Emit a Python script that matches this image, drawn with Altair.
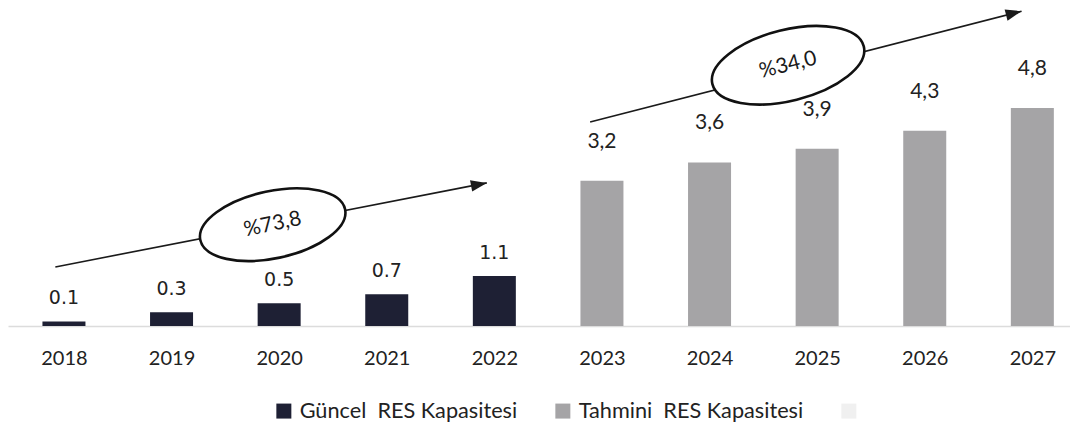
import altair as alt
import pandas as pd

# ---- data ----
years = [2018, 2019, 2020, 2021, 2022, 2023, 2024, 2025, 2026, 2027]
values = [0.1, 0.3, 0.5, 0.7, 1.1, 3.2, 3.6, 3.9, 4.3, 4.8]
value_labels = ["0.1", "0.3", "0.5", "0.7", "1.1", "3,2", "3,6", "3,9", "4,3", "4,8"]
series_names = ["Güncel\u00a0 RES Kapasitesi", "Tahmini\u00a0 RES Kapasitesi", "\u00a0"]
series = [series_names[0]] * 5 + [series_names[1]] * 5
series_colors = ["#1e2034", "#a5a4a6", "#f0f0f0"]

# ---- growth annotations (in year / value units) ----
arrow_x1 = [2017.92, 2022.89]
arrow_y1 = [1.30, 4.49]
arrow_x2 = [2021.93, 2026.90]
arrow_y2 = [3.15, 6.93]
arrow_angle = [349, 345.6]
ell_x = [2019.94, 2024.73]
ell_y = [2.23, 5.74]
ell_text = ["%73,8", "%34,0"]
ell_angle = [348, 346]
ell_size = [21904, 24336]

df = pd.DataFrame({"year": years, "value": values, "label": value_labels, "series": series})
arr = pd.DataFrame({"x1": arrow_x1, "y1": arrow_y1, "x2": arrow_x2, "y2": arrow_y2, "ang": arrow_angle})
ell = pd.DataFrame({"x": ell_x, "y": ell_y, "t": ell_text, "ang": ell_angle, "sz": ell_size})

XS = alt.Scale(domain=[2017.48, 2027.35], nice=False, zero=False, padding=0)
YS = alt.Scale(domain=[0, 7], nice=False, padding=0)
XA = alt.Axis(values=years, format="d", title=None, ticks=False, tickSize=0, grid=False,
              labelFont="Lato", labelFontSize=20, labelColor="#222222", labelBaseline="middle",
              labelPadding=32, domainColor="#dcdcdc", domainWidth=1.5, labelFlush=False)

base = alt.Chart(df)

bars = base.mark_bar(size=43).encode(
    x=alt.X("year:Q", scale=XS, axis=XA),
    y=alt.Y("value:Q", scale=YS, axis=None),
    color=alt.Color("series:N",
                    scale=alt.Scale(domain=series_names, range=series_colors),
                    legend=alt.Legend(title=None, orient="none", legendX=265, legendY=392,
                                      direction="horizontal", symbolType="square", symbolSize=225,
                                      symbolStrokeWidth=0, labelFont="Lato", labelFontSize=21.7,
                                      labelColor="#222222", labelOffset=5, columnPadding=34,
                                      labelLimit=0)),
)

lab_actual = base.transform_filter(alt.datum.series == series_names[0]).mark_text(
    font="DejaVu Sans", fontSize=19, dy=-23, color="#222222", baseline="middle"
).encode(x=alt.X("year:Q", scale=XS, axis=XA), y=alt.Y("value:Q", scale=YS, axis=None), text="label:N")

lab_fore = base.transform_filter(alt.datum.series == series_names[1]).mark_text(
    font="Lato", fontSize=21, dy=-39, color="#222222", baseline="middle"
).encode(x=alt.X("year:Q", scale=XS, axis=XA), y=alt.Y("value:Q", scale=YS, axis=None), text="label:N")

arrows = alt.Chart(arr).mark_rule(strokeWidth=1.6, color="#1a1a1a").encode(
    x=alt.X("x1:Q", scale=XS, axis=XA), y=alt.Y("y1:Q", scale=YS, axis=None), x2="x2:Q", y2="y2:Q"
)
heads = alt.Chart(arr).mark_point(
    shape="M 0 0 L -1 -0.36 L -1 0.36 Z", filled=True, color="#1a1a1a", opacity=1, size=1024
).encode(
    x=alt.X("x2:Q", scale=XS, axis=XA), y=alt.Y("y2:Q", scale=YS, axis=None),
    angle=alt.Angle("ang:Q", scale=None),
)

ellipses = alt.Chart(ell).mark_point(
    shape="M -1 0 A 1 0.455 0 1 0 1 0 A 1 0.455 0 1 0 -1 0 Z",
    filled=True, fill="white", stroke="#111111", strokeWidth=2.6, opacity=1, fillOpacity=1, strokeOpacity=1,
).encode(
    x=alt.X("x:Q", scale=XS, axis=XA), y=alt.Y("y:Q", scale=YS, axis=None),
    angle=alt.Angle("ang:Q", scale=None), size=alt.Size("sz:Q", scale=None),
)
ell_txt = alt.Chart(ell).mark_text(font="Lato", fontSize=21, color="#1a1a1a", baseline="middle").encode(
    x=alt.X("x:Q", scale=XS, axis=XA), y=alt.Y("y:Q", scale=YS, axis=None),
    text="t:N", angle=alt.Angle("ang:Q", scale=None),
)

chart = alt.layer(bars, arrows, heads, lab_actual, lab_fore, ellipses, ell_txt).properties(
    width=1062, height=318, padding=0, background="white"
).configure_view(strokeWidth=0)

chart.save("out.html", embed_options={"renderer": "svg", "actions": False})
